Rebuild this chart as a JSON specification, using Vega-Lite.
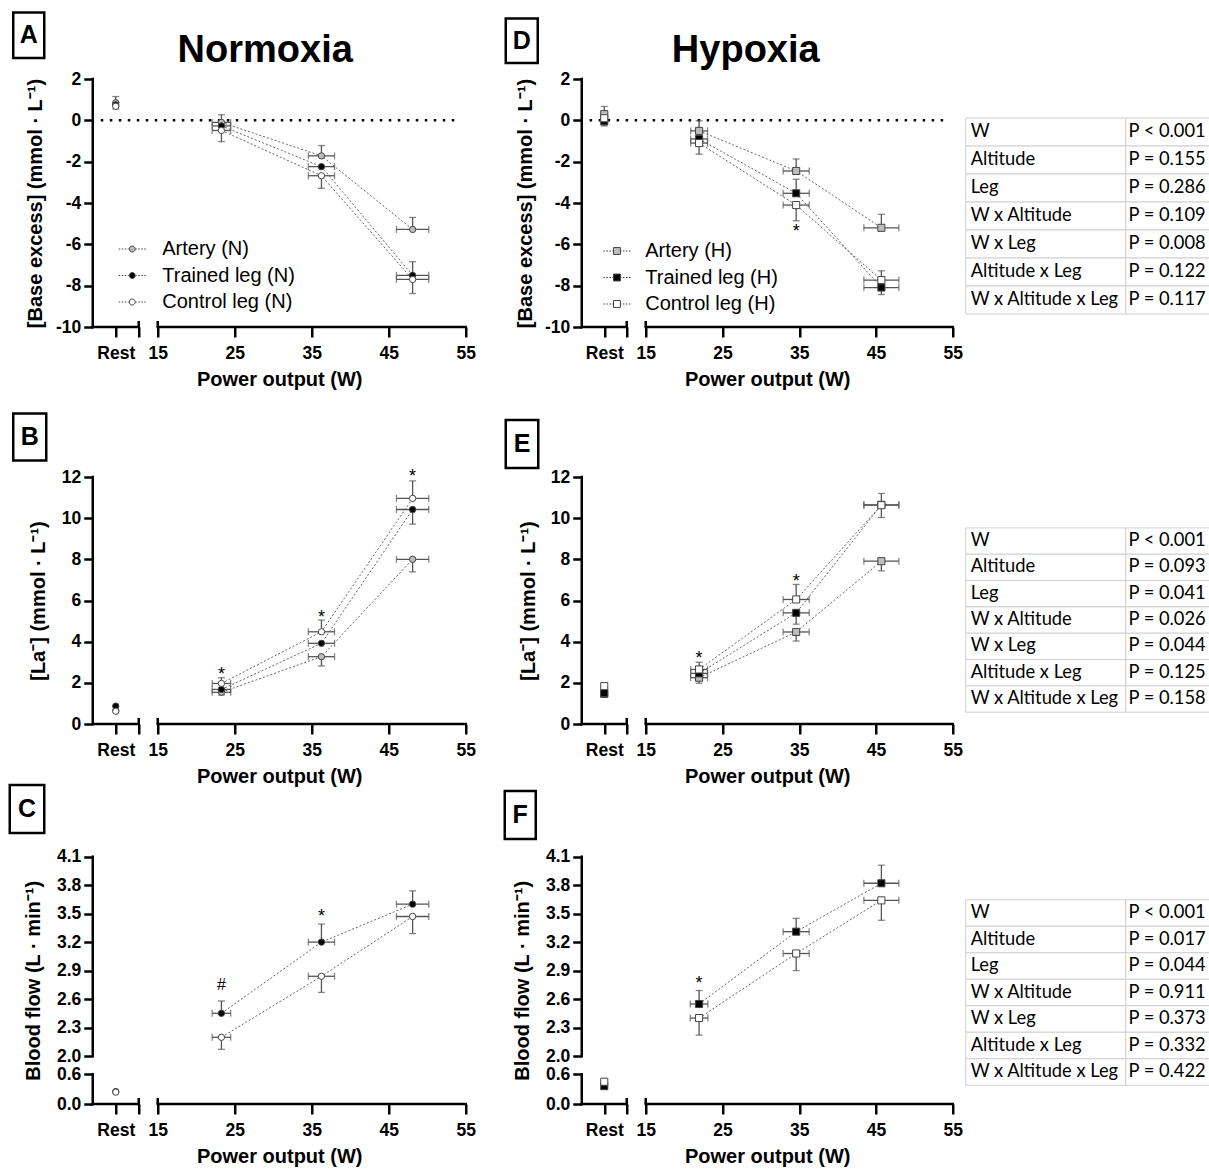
{
"$schema": "https://vega.github.io/schema/vega-lite/v6.json",
"autosize": {"type": "pad"},
"padding": {"left": 7.75, "top": 0, "right": 0, "bottom": 0},
"background": "white",
"columns": 3,
"spacing": 0,
"bounds": "flush",
"resolve": {"scale": {"x": "independent", "y": "independent", "fill": "independent"}, "legend": {"fill": "independent"}},
"datasets": {
"pts": [
{"p":"A","s":"Artery (N)","x":1,"y":0.85,"xlo":1,"xhi":1,"ylo":0.85,"yhi":1.15},
{"p":"A","s":"Artery (N)","x":23.27,"y":-0.1,"xlo":22.07,"xhi":24.47,"ylo":-0.1,"yhi":0.27},
{"p":"A","s":"Artery (N)","x":36.26,"y":-1.72,"xlo":34.56,"xhi":37.96,"ylo":-1.72,"yhi":-1.22},
{"p":"A","s":"Artery (N)","x":48.1,"y":-5.28,"xlo":46.0,"xhi":50.2,"ylo":-5.28,"yhi":-4.7},
{"p":"A","s":"Trained leg (N)","x":1,"y":0.75,"xlo":1,"xhi":1,"ylo":0.75,"yhi":0.75},
{"p":"A","s":"Trained leg (N)","x":23.27,"y":-0.27,"xlo":22.07,"xhi":24.47,"ylo":-0.27,"yhi":-0.27},
{"p":"A","s":"Trained leg (N)","x":36.26,"y":-2.24,"xlo":34.56,"xhi":37.96,"ylo":-2.24,"yhi":-2.24},
{"p":"A","s":"Trained leg (N)","x":48.1,"y":-7.5,"xlo":46.0,"xhi":50.2,"ylo":-7.5,"yhi":-6.84},
{"p":"A","s":"Control leg (N)","x":1,"y":0.68,"xlo":1,"xhi":1,"ylo":0.55,"yhi":0.68},
{"p":"A","s":"Control leg (N)","x":23.27,"y":-0.49,"xlo":22.07,"xhi":24.47,"ylo":-1.03,"yhi":-0.49},
{"p":"A","s":"Control leg (N)","x":36.26,"y":-2.68,"xlo":34.56,"xhi":37.96,"ylo":-3.29,"yhi":-2.68},
{"p":"A","s":"Control leg (N)","x":48.1,"y":-7.7,"xlo":46.0,"xhi":50.2,"ylo":-8.38,"yhi":-7.7},
{"p":"D","s":"Artery (H)","x":1,"y":0.3,"xlo":1,"xhi":1,"ylo":0.3,"yhi":0.67},
{"p":"D","s":"Artery (H)","x":21.95,"y":-0.51,"xlo":20.85,"xhi":23.05,"ylo":-0.51,"yhi":-0.02},
{"p":"D","s":"Artery (H)","x":34.6,"y":-2.45,"xlo":32.9,"xhi":36.3,"ylo":-2.45,"yhi":-1.87},
{"p":"D","s":"Artery (H)","x":45.7,"y":-5.2,"xlo":43.42,"xhi":47.98,"ylo":-5.2,"yhi":-4.55},
{"p":"D","s":"Trained leg (H)","x":1,"y":-0.05,"xlo":1,"xhi":1,"ylo":-0.27,"yhi":-0.05},
{"p":"D","s":"Trained leg (H)","x":21.95,"y":-0.9,"xlo":20.85,"xhi":23.05,"ylo":-0.9,"yhi":-0.9},
{"p":"D","s":"Trained leg (H)","x":34.6,"y":-3.53,"xlo":32.9,"xhi":36.3,"ylo":-3.53,"yhi":-2.85},
{"p":"D","s":"Trained leg (H)","x":45.7,"y":-8.09,"xlo":43.42,"xhi":47.98,"ylo":-8.43,"yhi":-8.09},
{"p":"D","s":"Control leg (H)","x":1,"y":0.1,"xlo":1,"xhi":1,"ylo":0.1,"yhi":0.1},
{"p":"D","s":"Control leg (H)","x":21.95,"y":-1.1,"xlo":20.85,"xhi":23.05,"ylo":-1.64,"yhi":-1.1},
{"p":"D","s":"Control leg (H)","x":34.6,"y":-4.1,"xlo":32.9,"xhi":36.3,"ylo":-4.86,"yhi":-4.1},
{"p":"D","s":"Control leg (H)","x":45.7,"y":-7.73,"xlo":43.42,"xhi":47.98,"ylo":-7.73,"yhi":-7.28},
{"p":"B","s":"Artery (N)","x":1,"y":0.65,"xlo":1,"xhi":1,"ylo":0.65,"yhi":0.65},
{"p":"B","s":"Artery (N)","x":23.27,"y":1.54,"xlo":22.07,"xhi":24.47,"ylo":1.41,"yhi":1.54},
{"p":"B","s":"Artery (N)","x":36.26,"y":3.27,"xlo":34.56,"xhi":37.96,"ylo":2.82,"yhi":3.27},
{"p":"B","s":"Artery (N)","x":48.1,"y":8.0,"xlo":46.0,"xhi":50.2,"ylo":7.39,"yhi":8.0},
{"p":"B","s":"Trained leg (N)","x":1,"y":0.87,"xlo":1,"xhi":1,"ylo":0.87,"yhi":0.87},
{"p":"B","s":"Trained leg (N)","x":23.27,"y":1.68,"xlo":22.07,"xhi":24.47,"ylo":1.68,"yhi":1.68},
{"p":"B","s":"Trained leg (N)","x":36.26,"y":3.92,"xlo":34.56,"xhi":37.96,"ylo":3.92,"yhi":3.92},
{"p":"B","s":"Trained leg (N)","x":48.1,"y":10.42,"xlo":46.0,"xhi":50.2,"ylo":9.71,"yhi":10.42},
{"p":"B","s":"Control leg (N)","x":1,"y":0.62,"xlo":1,"xhi":1,"ylo":0.62,"yhi":0.62},
{"p":"B","s":"Control leg (N)","x":23.27,"y":1.97,"xlo":22.07,"xhi":24.47,"ylo":1.97,"yhi":2.25},
{"p":"B","s":"Control leg (N)","x":36.26,"y":4.48,"xlo":34.56,"xhi":37.96,"ylo":4.48,"yhi":5.05},
{"p":"B","s":"Control leg (N)","x":48.1,"y":10.96,"xlo":46.0,"xhi":50.2,"ylo":10.96,"yhi":11.81},
{"p":"E","s":"Artery (H)","x":1,"y":1.46,"xlo":1,"xhi":1,"ylo":1.46,"yhi":1.46},
{"p":"E","s":"Artery (H)","x":21.95,"y":2.25,"xlo":20.85,"xhi":23.05,"ylo":1.98,"yhi":2.25},
{"p":"E","s":"Artery (H)","x":34.6,"y":4.47,"xlo":32.9,"xhi":36.3,"ylo":4.03,"yhi":4.47},
{"p":"E","s":"Artery (H)","x":45.7,"y":7.91,"xlo":43.42,"xhi":47.98,"ylo":7.44,"yhi":7.91},
{"p":"E","s":"Trained leg (H)","x":1,"y":1.5,"xlo":1,"xhi":1,"ylo":1.5,"yhi":1.5},
{"p":"E","s":"Trained leg (H)","x":21.95,"y":2.46,"xlo":20.85,"xhi":23.05,"ylo":2.46,"yhi":2.46},
{"p":"E","s":"Trained leg (H)","x":34.6,"y":5.4,"xlo":32.9,"xhi":36.3,"ylo":4.85,"yhi":5.4},
{"p":"E","s":"Trained leg (H)","x":45.7,"y":10.65,"xlo":43.42,"xhi":47.98,"ylo":10.03,"yhi":10.65},
{"p":"E","s":"Control leg (H)","x":1,"y":1.84,"xlo":1,"xhi":1,"ylo":1.84,"yhi":1.84},
{"p":"E","s":"Control leg (H)","x":21.95,"y":2.65,"xlo":20.85,"xhi":23.05,"ylo":2.65,"yhi":3.0},
{"p":"E","s":"Control leg (H)","x":34.6,"y":6.05,"xlo":32.9,"xhi":36.3,"ylo":6.05,"yhi":6.78},
{"p":"E","s":"Control leg (H)","x":45.7,"y":10.63,"xlo":43.42,"xhi":47.98,"ylo":10.63,"yhi":11.2},
{"p":"C","s":"Trained leg (N)","x":1,"y":0.25,"xlo":1,"xhi":1,"ylo":0.25,"yhi":0.25},
{"p":"C","s":"Trained leg (N)","x":23.27,"y":2.45,"xlo":22.07,"xhi":24.47,"ylo":2.45,"yhi":2.58},
{"p":"C","s":"Trained leg (N)","x":36.26,"y":3.2,"xlo":34.56,"xhi":37.96,"ylo":3.2,"yhi":3.39},
{"p":"C","s":"Trained leg (N)","x":48.1,"y":3.6,"xlo":46.0,"xhi":50.2,"ylo":3.6,"yhi":3.74},
{"p":"C","s":"Control leg (N)","x":1,"y":0.24,"xlo":1,"xhi":1,"ylo":0.24,"yhi":0.24},
{"p":"C","s":"Control leg (N)","x":23.27,"y":2.197,"xlo":22.07,"xhi":24.47,"ylo":2.07,"yhi":2.197},
{"p":"C","s":"Control leg (N)","x":36.26,"y":2.84,"xlo":34.56,"xhi":37.96,"ylo":2.67,"yhi":2.84},
{"p":"C","s":"Control leg (N)","x":48.1,"y":3.47,"xlo":46.0,"xhi":50.2,"ylo":3.29,"yhi":3.47},
{"p":"F","s":"Trained leg (H)","x":1,"y":0.36,"xlo":1,"xhi":1,"ylo":0.36,"yhi":0.36},
{"p":"F","s":"Trained leg (H)","x":21.95,"y":2.548,"xlo":20.8,"xhi":23.1,"ylo":2.548,"yhi":2.69},
{"p":"F","s":"Trained leg (H)","x":34.6,"y":3.31,"xlo":32.9,"xhi":36.3,"ylo":3.31,"yhi":3.45},
{"p":"F","s":"Trained leg (H)","x":45.7,"y":3.82,"xlo":43.42,"xhi":47.98,"ylo":3.82,"yhi":4.01},
{"p":"F","s":"Control leg (H)","x":1,"y":0.45,"xlo":1,"xhi":1,"ylo":0.45,"yhi":0.45},
{"p":"F","s":"Control leg (H)","x":21.95,"y":2.4,"xlo":20.8,"xhi":23.1,"ylo":2.22,"yhi":2.4},
{"p":"F","s":"Control leg (H)","x":34.6,"y":3.08,"xlo":32.9,"xhi":36.3,"ylo":2.9,"yhi":3.08},
{"p":"F","s":"Control leg (H)","x":45.7,"y":3.64,"xlo":43.42,"xhi":47.98,"ylo":3.43,"yhi":3.64}
],
"ann": [
{"p":"D","x":34.6,"y":-5.15,"t":"*"},
{"p":"B","x":23.27,"y":2.62,"t":"*"},
{"p":"B","x":36.26,"y":5.4,"t":"*"},
{"p":"B","x":48.1,"y":12.24,"t":"*"},
{"p":"C","x":23.27,"y":2.76,"t":"#"},
{"p":"C","x":36.26,"y":3.52,"t":"*"},
{"p":"E","x":21.95,"y":3.4,"t":"*"},
{"p":"E","x":34.6,"y":7.15,"t":"*"},
{"p":"F","x":21.95,"y":2.81,"t":"*"}
],
"tab": [
{"k":1,"t":"W","v":"P < 0.001"},
{"k":1,"t":"Altitude","v":"P = 0.155"},
{"k":1,"t":"Leg","v":"P = 0.286"},
{"k":1,"t":"W x Altitude","v":"P = 0.109"},
{"k":1,"t":"W x Leg","v":"P = 0.008"},
{"k":1,"t":"Altitude x Leg","v":"P = 0.122"},
{"k":1,"t":"W x Altitude x Leg","v":"P = 0.117"},
{"k":2,"t":"W","v":"P < 0.001"},
{"k":2,"t":"Altitude","v":"P = 0.093"},
{"k":2,"t":"Leg","v":"P = 0.041"},
{"k":2,"t":"W x Altitude","v":"P = 0.026"},
{"k":2,"t":"W x Leg","v":"P = 0.044"},
{"k":2,"t":"Altitude x Leg","v":"P = 0.125"},
{"k":2,"t":"W x Altitude x Leg","v":"P = 0.158"},
{"k":3,"t":"W","v":"P < 0.001"},
{"k":3,"t":"Altitude","v":"P = 0.017"},
{"k":3,"t":"Leg","v":"P = 0.044"},
{"k":3,"t":"W x Altitude","v":"P = 0.911"},
{"k":3,"t":"W x Leg","v":"P = 0.373"},
{"k":3,"t":"Altitude x Leg","v":"P = 0.332"},
{"k":3,"t":"W x Altitude x Leg","v":"P = 0.422"}
]
},
"concat": [
{
"width": 489, "height": 327,
"layer": [
{"data": {"name": "pts"}, "transform": [{"filter": "datum.p == 'A' && datum.x > 5"}], "mark": {"type": "line", "color": "#666", "strokeWidth": 1, "strokeDash": [2, 2]}, "encoding": {
"x": {"field": "x", "type": "quantitative", "scale": {"domain": [0, 2, 15, 55], "range": [0, 46, 65, 373], "zero": false, "nice": false}, "axis": {"title": "Power output (W)", "values": [1, 2, 15, 25, 35, 45, 55], "labelExpr": "datum.value == 1 ? 'Rest' : (datum.value == 2 ? '' : datum.label)"}},
"y": {"field": "y", "type": "quantitative", "scale": {"domain": [-10, 2], "range": [327, 79], "zero": false, "nice": false}, "axis": {"title": "[Base excess] (mmol · L⁻¹)", "values": [-10, -8, -6, -4, -2, 0, 2], "labelExpr": "'' + datum.value", "titlePadding": 10}},
"detail": {"field": "s"}}},
{"data": {"values": [{}]}, "mark": {"type": "rule", "color": "black", "strokeWidth": 2.5, "strokeCap": "square"}, "encoding": {"x": {"datum": 0, "type": "quantitative"}, "y": {"datum": -10, "type": "quantitative"}, "y2": {"datum": 2}}},
{"data": {"values": [{}]}, "mark": {"type": "rule", "color": "black", "strokeWidth": 2.5, "strokeCap": "square"}, "encoding": {"x": {"datum": 0, "type": "quantitative"}, "x2": {"datum": 2}, "y": {"datum": -10, "type": "quantitative"}}},
{"data": {"values": [{}]}, "mark": {"type": "rule", "color": "black", "strokeWidth": 2.5, "strokeCap": "square"}, "encoding": {"x": {"datum": 15, "type": "quantitative"}, "x2": {"datum": 55}, "y": {"datum": -10, "type": "quantitative"}}},
{"data": {"values": [{}]}, "mark": {"type": "rule", "color": "black", "strokeWidth": 2.5}, "encoding": {"x": {"datum": 2, "type": "quantitative"}, "y": {"datum": -10, "type": "quantitative"}, "y2": {"datum": -9.71}}},
{"data": {"values": [{}]}, "mark": {"type": "rule", "color": "black", "strokeWidth": 2.5}, "encoding": {"x": {"datum": 15, "type": "quantitative"}, "y": {"datum": -10, "type": "quantitative"}, "y2": {"datum": -9.71}}},
{"data": {"values": [{}]}, "mark": {"type": "rule", "color": "black", "strokeWidth": 2.5, "strokeDash": [2.5, 6.5]}, "encoding": {"x": {"datum": 0.35, "type": "quantitative"}, "x2": {"datum": 54}, "y": {"datum": 0, "type": "quantitative"}}},
{"data": {"name": "pts"}, "transform": [{"filter": "datum.p == 'A' && datum.yhi > datum.ylo"}], "mark": {"type": "errorbar", "ticks": true, "size": 7, "thickness": 1.3, "color": "#555"}, "encoding": {"x": {"field": "x", "type": "quantitative", "title": "Power output (W)"}, "y": {"field": "ylo", "type": "quantitative", "title": "[Base excess] (mmol · L⁻¹)"}, "y2": {"field": "yhi"}}},
{"data": {"name": "pts"}, "transform": [{"filter": "datum.p == 'A' && datum.xhi > datum.xlo"}], "mark": {"type": "errorbar", "ticks": true, "size": 7, "thickness": 1.3, "color": "#555"}, "encoding": {"x": {"field": "xlo", "type": "quantitative", "title": "Power output (W)"}, "x2": {"field": "xhi"}, "y": {"field": "y", "type": "quantitative", "title": "[Base excess] (mmol · L⁻¹)"}}},
{"data": {"name": "pts"}, "transform": [{"filter": "datum.p == 'A'"}], "mark": {"type": "point", "shape": "circle", "filled": true, "size": 40, "stroke": "#444", "strokeWidth": 1, "opacity": 1}, "encoding": {"x": {"field": "x", "type": "quantitative"}, "y": {"field": "y", "type": "quantitative"}, "fill": {"field": "s", "type": "nominal", "scale": {"domain": ["Artery (N)", "Trained leg (N)", "Control leg (N)"], "range": ["#bdbdbd", "#000000", "#ffffff"]}, "legend": {"orient": "none", "legendX": 29.5, "legendY": 239, "title": null, "symbolType": "M-4.5,0H-4M-3.5,0H-3M-2.5,0H-2M-1.5,0H-1.2M1.2,0H1.5M2,0H2.5M3,0H3.5M4,0H4.5M1,0A1,1,0,1,1,-1,0A1,1,0,1,1,1,0Z", "symbolSize": 36, "symbolStrokeColor": "#444", "symbolStrokeWidth": 1, "symbolOpacity": 1, "labelFontSize": 20, "labelFont": "Liberation Sans", "labelColor": "black", "labelOffset": 20, "rowPadding": 6.5, "padding": 0, "labelLimit": 300}}}},
{"data": {"values": [{}]}, "mark": {"type": "rect", "fill": "white", "stroke": "black", "strokeWidth": 2.5}, "encoding": {"x": {"datum": -3.457, "type": "quantitative"}, "x2": {"datum": -2.109}, "y": {"datum": 5.218, "type": "quantitative"}, "y2": {"datum": 3.016}}},
{"data": {"values": [{}]}, "mark": {"type": "text", "fontSize": 25, "fontWeight": "bold", "align": "center", "baseline": "middle", "color": "black"}, "encoding": {"x": {"datum": -2.783, "type": "quantitative"}, "y": {"datum": 4.117, "type": "quantitative"}, "text": {"value": "A"}}},
{"data": {"values": [{}]}, "mark": {"type": "text", "fontSize": 38, "fontWeight": "bold", "align": "center", "baseline": "alphabetic", "color": "black"}, "encoding": {"x": {"datum": 28.96, "type": "quantitative"}, "y": {"datum": 2.823, "type": "quantitative"}, "text": {"value": "Normoxia"}}}
]
},
{
"width": 384, "height": 327,
"layer": [
{"data": {"name": "pts"}, "transform": [{"filter": "datum.p == 'D' && datum.x > 5"}], "mark": {"type": "line", "color": "#666", "strokeWidth": 1, "strokeDash": [2, 2]}, "encoding": {
"x": {"field": "x", "type": "quantitative", "scale": {"domain": [0, 2, 15, 55], "range": [0, 45, 64, 371], "zero": false, "nice": false}, "axis": {"title": "Power output (W)", "values": [1, 2, 15, 25, 35, 45, 55], "labelExpr": "datum.value == 1 ? 'Rest' : (datum.value == 2 ? '' : datum.label)"}},
"y": {"field": "y", "type": "quantitative", "scale": {"domain": [-10, 2], "range": [327, 79], "zero": false, "nice": false}, "axis": {"title": "[Base excess] (mmol · L⁻¹)", "values": [-10, -8, -6, -4, -2, 0, 2], "labelExpr": "'' + datum.value", "titlePadding": 9}},
"detail": {"field": "s"}}},
{"data": {"values": [{}]}, "mark": {"type": "rule", "color": "black", "strokeWidth": 2.5, "strokeCap": "square"}, "encoding": {"x": {"datum": 0, "type": "quantitative"}, "y": {"datum": -10, "type": "quantitative"}, "y2": {"datum": 2}}},
{"data": {"values": [{}]}, "mark": {"type": "rule", "color": "black", "strokeWidth": 2.5, "strokeCap": "square"}, "encoding": {"x": {"datum": 0, "type": "quantitative"}, "x2": {"datum": 2}, "y": {"datum": -10, "type": "quantitative"}}},
{"data": {"values": [{}]}, "mark": {"type": "rule", "color": "black", "strokeWidth": 2.5, "strokeCap": "square"}, "encoding": {"x": {"datum": 15, "type": "quantitative"}, "x2": {"datum": 55}, "y": {"datum": -10, "type": "quantitative"}}},
{"data": {"values": [{}]}, "mark": {"type": "rule", "color": "black", "strokeWidth": 2.5}, "encoding": {"x": {"datum": 2, "type": "quantitative"}, "y": {"datum": -10, "type": "quantitative"}, "y2": {"datum": -9.71}}},
{"data": {"values": [{}]}, "mark": {"type": "rule", "color": "black", "strokeWidth": 2.5}, "encoding": {"x": {"datum": 15, "type": "quantitative"}, "y": {"datum": -10, "type": "quantitative"}, "y2": {"datum": -9.71}}},
{"data": {"values": [{}]}, "mark": {"type": "rule", "color": "black", "strokeWidth": 2.5, "strokeDash": [2.5, 6.5]}, "encoding": {"x": {"datum": 0.35, "type": "quantitative"}, "x2": {"datum": 54}, "y": {"datum": 0, "type": "quantitative"}}},
{"data": {"name": "pts"}, "transform": [{"filter": "datum.p == 'D' && datum.yhi > datum.ylo"}], "mark": {"type": "errorbar", "ticks": true, "size": 7, "thickness": 1.3, "color": "#555"}, "encoding": {"x": {"field": "x", "type": "quantitative", "title": "Power output (W)"}, "y": {"field": "ylo", "type": "quantitative", "title": "[Base excess] (mmol · L⁻¹)"}, "y2": {"field": "yhi"}}},
{"data": {"name": "pts"}, "transform": [{"filter": "datum.p == 'D' && datum.xhi > datum.xlo"}], "mark": {"type": "errorbar", "ticks": true, "size": 7, "thickness": 1.3, "color": "#555"}, "encoding": {"x": {"field": "xlo", "type": "quantitative", "title": "Power output (W)"}, "x2": {"field": "xhi"}, "y": {"field": "y", "type": "quantitative", "title": "[Base excess] (mmol · L⁻¹)"}}},
{"data": {"name": "pts"}, "transform": [{"filter": "datum.p == 'D'"}], "mark": {"type": "point", "shape": "square", "filled": true, "size": 50, "stroke": "#444", "strokeWidth": 1, "opacity": 1}, "encoding": {"x": {"field": "x", "type": "quantitative"}, "y": {"field": "y", "type": "quantitative"}, "fill": {"field": "s", "type": "nominal", "scale": {"domain": ["Artery (H)", "Trained leg (H)", "Control leg (H)"], "range": ["#bdbdbd", "#000000", "#ffffff"]}, "legend": {"orient": "none", "legendX": 25.2, "legendY": 241, "title": null, "symbolType": "M-4.5,0H-4M-3.5,0H-3M-2.5,0H-2M-1.5,0H-1.2M1.2,0H1.5M2,0H2.5M3,0H3.5M4,0H4.5M-1.15,-1.15H1.15V1.15H-1.15Z", "symbolSize": 36, "symbolStrokeColor": "#444", "symbolStrokeWidth": 1, "symbolOpacity": 1, "labelFontSize": 20, "labelFont": "Liberation Sans", "labelColor": "black", "labelOffset": 18.3, "rowPadding": 6.5, "padding": 0, "labelLimit": 300}}}},
{"data": {"name": "ann"}, "transform": [{"filter": "datum.p == 'D' && datum.t == '*'"}], "mark": {"type": "text", "fontSize": 18, "color": "black", "baseline": "alphabetic", "dy": 10}, "encoding": {"x": {"field": "x", "type": "quantitative"}, "y": {"field": "y", "type": "quantitative"}, "text": {"field": "t"}}},
{"data": {"values": [{}]}, "mark": {"type": "rect", "fill": "white", "stroke": "black", "strokeWidth": 2.5}, "encoding": {"x": {"datum": -3.378, "type": "quantitative"}, "x2": {"datum": -1.956}, "y": {"datum": 4.927, "type": "quantitative"}, "y2": {"datum": 2.774}}},
{"data": {"values": [{}]}, "mark": {"type": "text", "fontSize": 25, "fontWeight": "bold", "align": "center", "baseline": "middle", "color": "black"}, "encoding": {"x": {"datum": -2.667, "type": "quantitative"}, "y": {"datum": 3.851, "type": "quantitative"}, "text": {"value": "D"}}},
{"data": {"values": [{}]}, "mark": {"type": "text", "fontSize": 38, "fontWeight": "bold", "align": "center", "baseline": "alphabetic", "color": "black"}, "encoding": {"x": {"datum": 28.03, "type": "quantitative"}, "y": {"datum": 2.823, "type": "quantitative"}, "text": {"value": "Hypoxia"}}}
]
},
{
"width": 244, "height": 327,
"data": {"name": "tab"},
"transform": [{"filter": "datum.k == 1"}],
"encoding": {
"y": {"field": "t", "type": "nominal", "sort": null, "scale": {"type": "band", "range": [118, 314], "paddingInner": 0, "paddingOuter": 0}, "axis": null}
},
"layer": [
{"mark": {"type": "rect", "fill": "white", "stroke": "#cfcfcf", "strokeWidth": 1}, "encoding": {"x": {"datum": 0, "type": "quantitative", "scale": {"domain": [0, 1], "nice": false, "zero": false}, "axis": null}, "x2": {"datum": 0.656}}},
{"mark": {"type": "rect", "fill": "white", "stroke": "#cfcfcf", "strokeWidth": 1}, "encoding": {"x": {"datum": 0.656, "type": "quantitative"}, "x2": {"datum": 1.01}}},
{"mark": {"type": "text", "align": "left", "baseline": "middle", "font": "Lato", "fontSize": 18.3, "color": "black"}, "encoding": {"x": {"datum": 0.02, "type": "quantitative"}, "text": {"field": "t"}}},
{"mark": {"type": "text", "align": "left", "baseline": "middle", "font": "Lato", "fontSize": 18.3, "color": "black"}, "encoding": {"x": {"datum": 0.667, "type": "quantitative"}, "text": {"field": "v"}}}
]
},
{
"width": 489, "height": 397,
"layer": [
{"data": {"name": "pts"}, "transform": [{"filter": "datum.p == 'B' && datum.x > 5"}], "mark": {"type": "line", "color": "#666", "strokeWidth": 1, "strokeDash": [2, 2]}, "encoding": {
"x": {"field": "x", "type": "quantitative", "scale": {"domain": [0, 2, 15, 55], "range": [0, 46, 65, 373], "zero": false, "nice": false}, "axis": {"title": "Power output (W)", "values": [1, 2, 15, 25, 35, 45, 55], "labelExpr": "datum.value == 1 ? 'Rest' : (datum.value == 2 ? '' : datum.label)"}},
"y": {"field": "y", "type": "quantitative", "scale": {"domain": [0, 12], "range": [397, 150], "zero": false, "nice": false}, "axis": {"title": "[La⁻] (mmol · L⁻¹)", "values": [0, 2, 4, 6, 8, 10, 12], "titlePadding": 12.5}},
"detail": {"field": "s"}}},
{"data": {"values": [{}]}, "mark": {"type": "rule", "color": "black", "strokeWidth": 2.5, "strokeCap": "square"}, "encoding": {"x": {"datum": 0, "type": "quantitative"}, "y": {"datum": 0, "type": "quantitative"}, "y2": {"datum": 12}}},
{"data": {"values": [{}]}, "mark": {"type": "rule", "color": "black", "strokeWidth": 2.5, "strokeCap": "square"}, "encoding": {"x": {"datum": 0, "type": "quantitative"}, "x2": {"datum": 2}, "y": {"datum": 0, "type": "quantitative"}}},
{"data": {"values": [{}]}, "mark": {"type": "rule", "color": "black", "strokeWidth": 2.5, "strokeCap": "square"}, "encoding": {"x": {"datum": 15, "type": "quantitative"}, "x2": {"datum": 55}, "y": {"datum": 0, "type": "quantitative"}}},
{"data": {"values": [{}]}, "mark": {"type": "rule", "color": "black", "strokeWidth": 2.5}, "encoding": {"x": {"datum": 2, "type": "quantitative"}, "y": {"datum": 0, "type": "quantitative"}, "y2": {"datum": 0.29}}},
{"data": {"values": [{}]}, "mark": {"type": "rule", "color": "black", "strokeWidth": 2.5}, "encoding": {"x": {"datum": 15, "type": "quantitative"}, "y": {"datum": 0, "type": "quantitative"}, "y2": {"datum": 0.29}}},
{"data": {"name": "pts"}, "transform": [{"filter": "datum.p == 'B' && datum.yhi > datum.ylo"}], "mark": {"type": "errorbar", "ticks": true, "size": 7, "thickness": 1.3, "color": "#555"}, "encoding": {"x": {"field": "x", "type": "quantitative", "title": "Power output (W)"}, "y": {"field": "ylo", "type": "quantitative", "title": "[La⁻] (mmol · L⁻¹)"}, "y2": {"field": "yhi"}}},
{"data": {"name": "pts"}, "transform": [{"filter": "datum.p == 'B' && datum.xhi > datum.xlo"}], "mark": {"type": "errorbar", "ticks": true, "size": 7, "thickness": 1.3, "color": "#555"}, "encoding": {"x": {"field": "xlo", "type": "quantitative", "title": "Power output (W)"}, "x2": {"field": "xhi"}, "y": {"field": "y", "type": "quantitative", "title": "[La⁻] (mmol · L⁻¹)"}}},
{"data": {"name": "pts"}, "transform": [{"filter": "datum.p == 'B'"}], "mark": {"type": "point", "shape": "circle", "filled": true, "size": 40, "stroke": "#444", "strokeWidth": 1, "opacity": 1}, "encoding": {"x": {"field": "x", "type": "quantitative"}, "y": {"field": "y", "type": "quantitative"}, "fill": {"field": "s", "type": "nominal", "scale": {"domain": ["Artery (N)", "Trained leg (N)", "Control leg (N)"], "range": ["#bdbdbd", "#000000", "#ffffff"]}, "legend": null}}},
{"data": {"name": "ann"}, "transform": [{"filter": "datum.p == 'B' && datum.t == '*'"}], "mark": {"type": "text", "fontSize": 18, "color": "black", "baseline": "alphabetic", "dy": 10}, "encoding": {"x": {"field": "x", "type": "quantitative"}, "y": {"field": "y", "type": "quantitative"}, "text": {"field": "t"}}},
{"data": {"values": [{}]}, "mark": {"type": "rect", "fill": "white", "stroke": "black", "strokeWidth": 2.5}, "encoding": {"x": {"datum": -3.457, "type": "quantitative"}, "x2": {"datum": -2.022}, "y": {"datum": 15.085, "type": "quantitative"}, "y2": {"datum": 12.802}}},
{"data": {"values": [{}]}, "mark": {"type": "text", "fontSize": 25, "fontWeight": "bold", "align": "center", "baseline": "middle", "color": "black"}, "encoding": {"x": {"datum": -2.739, "type": "quantitative"}, "y": {"datum": 13.944, "type": "quantitative"}, "text": {"value": "B"}}}
]
},
{
"width": 384, "height": 397,
"layer": [
{"data": {"name": "pts"}, "transform": [{"filter": "datum.p == 'E' && datum.x > 5"}], "mark": {"type": "line", "color": "#666", "strokeWidth": 1, "strokeDash": [2, 2]}, "encoding": {
"x": {"field": "x", "type": "quantitative", "scale": {"domain": [0, 2, 15, 55], "range": [0, 45, 64, 371], "zero": false, "nice": false}, "axis": {"title": "Power output (W)", "values": [1, 2, 15, 25, 35, 45, 55], "labelExpr": "datum.value == 1 ? 'Rest' : (datum.value == 2 ? '' : datum.label)"}},
"y": {"field": "y", "type": "quantitative", "scale": {"domain": [0, 12], "range": [397, 150], "zero": false, "nice": false}, "axis": {"title": "[La⁻] (mmol · L⁻¹)", "values": [0, 2, 4, 6, 8, 10, 12], "titlePadding": 12}},
"detail": {"field": "s"}}},
{"data": {"values": [{}]}, "mark": {"type": "rule", "color": "black", "strokeWidth": 2.5, "strokeCap": "square"}, "encoding": {"x": {"datum": 0, "type": "quantitative"}, "y": {"datum": 0, "type": "quantitative"}, "y2": {"datum": 12}}},
{"data": {"values": [{}]}, "mark": {"type": "rule", "color": "black", "strokeWidth": 2.5, "strokeCap": "square"}, "encoding": {"x": {"datum": 0, "type": "quantitative"}, "x2": {"datum": 2}, "y": {"datum": 0, "type": "quantitative"}}},
{"data": {"values": [{}]}, "mark": {"type": "rule", "color": "black", "strokeWidth": 2.5, "strokeCap": "square"}, "encoding": {"x": {"datum": 15, "type": "quantitative"}, "x2": {"datum": 55}, "y": {"datum": 0, "type": "quantitative"}}},
{"data": {"values": [{}]}, "mark": {"type": "rule", "color": "black", "strokeWidth": 2.5}, "encoding": {"x": {"datum": 2, "type": "quantitative"}, "y": {"datum": 0, "type": "quantitative"}, "y2": {"datum": 0.29}}},
{"data": {"values": [{}]}, "mark": {"type": "rule", "color": "black", "strokeWidth": 2.5}, "encoding": {"x": {"datum": 15, "type": "quantitative"}, "y": {"datum": 0, "type": "quantitative"}, "y2": {"datum": 0.29}}},
{"data": {"name": "pts"}, "transform": [{"filter": "datum.p == 'E' && datum.yhi > datum.ylo"}], "mark": {"type": "errorbar", "ticks": true, "size": 7, "thickness": 1.3, "color": "#555"}, "encoding": {"x": {"field": "x", "type": "quantitative", "title": "Power output (W)"}, "y": {"field": "ylo", "type": "quantitative", "title": "[La⁻] (mmol · L⁻¹)"}, "y2": {"field": "yhi"}}},
{"data": {"name": "pts"}, "transform": [{"filter": "datum.p == 'E' && datum.xhi > datum.xlo"}], "mark": {"type": "errorbar", "ticks": true, "size": 7, "thickness": 1.3, "color": "#555"}, "encoding": {"x": {"field": "xlo", "type": "quantitative", "title": "Power output (W)"}, "x2": {"field": "xhi"}, "y": {"field": "y", "type": "quantitative", "title": "[La⁻] (mmol · L⁻¹)"}}},
{"data": {"name": "pts"}, "transform": [{"filter": "datum.p == 'E'"}], "mark": {"type": "point", "shape": "square", "filled": true, "size": 50, "stroke": "#444", "strokeWidth": 1, "opacity": 1}, "encoding": {"x": {"field": "x", "type": "quantitative"}, "y": {"field": "y", "type": "quantitative"}, "fill": {"field": "s", "type": "nominal", "scale": {"domain": ["Artery (H)", "Trained leg (H)", "Control leg (H)"], "range": ["#bdbdbd", "#000000", "#ffffff"]}, "legend": null}}},
{"data": {"name": "ann"}, "transform": [{"filter": "datum.p == 'E' && datum.t == '*'"}], "mark": {"type": "text", "fontSize": 18, "color": "black", "baseline": "alphabetic", "dy": 10}, "encoding": {"x": {"field": "x", "type": "quantitative"}, "y": {"field": "y", "type": "quantitative"}, "text": {"field": "t"}}},
{"data": {"values": [{}]}, "mark": {"type": "rect", "fill": "white", "stroke": "black", "strokeWidth": 2.5}, "encoding": {"x": {"datum": -3.378, "type": "quantitative"}, "x2": {"datum": -1.933}, "y": {"datum": 14.77, "type": "quantitative"}, "y2": {"datum": 12.438}}},
{"data": {"values": [{}]}, "mark": {"type": "text", "fontSize": 25, "fontWeight": "bold", "align": "center", "baseline": "middle", "color": "black"}, "encoding": {"x": {"datum": -2.656, "type": "quantitative"}, "y": {"datum": 13.603, "type": "quantitative"}, "text": {"value": "E"}}}
]
},
{
"width": 244, "height": 397,
"data": {"name": "tab"},
"transform": [{"filter": "datum.k == 2"}],
"encoding": {
"y": {"field": "t", "type": "nominal", "sort": null, "scale": {"type": "band", "range": [200.9, 385.2], "paddingInner": 0, "paddingOuter": 0}, "axis": null}
},
"layer": [
{"mark": {"type": "rect", "fill": "white", "stroke": "#cfcfcf", "strokeWidth": 1}, "encoding": {"x": {"datum": 0, "type": "quantitative", "scale": {"domain": [0, 1], "nice": false, "zero": false}, "axis": null}, "x2": {"datum": 0.656}}},
{"mark": {"type": "rect", "fill": "white", "stroke": "#cfcfcf", "strokeWidth": 1}, "encoding": {"x": {"datum": 0.656, "type": "quantitative"}, "x2": {"datum": 1.01}}},
{"mark": {"type": "text", "align": "left", "baseline": "middle", "font": "Lato", "fontSize": 18.3, "color": "black"}, "encoding": {"x": {"datum": 0.02, "type": "quantitative"}, "text": {"field": "t"}}},
{"mark": {"type": "text", "align": "left", "baseline": "middle", "font": "Lato", "fontSize": 18.3, "color": "black"}, "encoding": {"x": {"datum": 0.667, "type": "quantitative"}, "text": {"field": "v"}}}
]
},
{
"width": 489, "height": 380,
"layer": [
{"data": {"name": "pts"}, "transform": [{"filter": "datum.p == 'C' && datum.x > 5"}], "mark": {"type": "line", "color": "#666", "strokeWidth": 1, "strokeDash": [2, 2]}, "encoding": {
"x": {"field": "x", "type": "quantitative", "scale": {"domain": [0, 2, 15, 55], "range": [0, 46, 65, 373], "zero": false, "nice": false}, "axis": {"title": "Power output (W)", "values": [1, 2, 15, 25, 35, 45, 55], "labelExpr": "datum.value == 1 ? 'Rest' : (datum.value == 2 ? '' : datum.label)"}},
"y": {"field": "y", "type": "quantitative", "scale": {"domain": [0, 0.6, 2, 4.1], "range": [380, 350.3, 332, 132.7], "zero": false, "nice": false}, "axis": {"title": "Blood flow (L · min⁻¹)", "values": [0, 0.6, 2, 2.3, 2.6, 2.9, 3.2, 3.5, 3.8, 4.1], "format": ".1f", "titlePadding": 12.7}},
"detail": {"field": "s"}}},
{"data": {"values": [{}]}, "mark": {"type": "rule", "color": "black", "strokeWidth": 2.5, "strokeCap": "square"}, "encoding": {"x": {"datum": 0, "type": "quantitative"}, "y": {"datum": 0, "type": "quantitative"}, "y2": {"datum": 0.6}}},
{"data": {"values": [{}]}, "mark": {"type": "rule", "color": "black", "strokeWidth": 2.5, "strokeCap": "square"}, "encoding": {"x": {"datum": 0, "type": "quantitative"}, "y": {"datum": 2, "type": "quantitative"}, "y2": {"datum": 4.1}}},
{"data": {"values": [{}]}, "mark": {"type": "rule", "color": "black", "strokeWidth": 2.5, "strokeCap": "square"}, "encoding": {"x": {"datum": 0, "type": "quantitative"}, "x2": {"datum": 2}, "y": {"datum": 0, "type": "quantitative"}}},
{"data": {"values": [{}]}, "mark": {"type": "rule", "color": "black", "strokeWidth": 2.5, "strokeCap": "square"}, "encoding": {"x": {"datum": 15, "type": "quantitative"}, "x2": {"datum": 55}, "y": {"datum": 0, "type": "quantitative"}}},
{"data": {"values": [{}]}, "mark": {"type": "rule", "color": "black", "strokeWidth": 2.5}, "encoding": {"x": {"datum": 2, "type": "quantitative"}, "y": {"datum": 0, "type": "quantitative"}, "y2": {"datum": 0.121}}},
{"data": {"values": [{}]}, "mark": {"type": "rule", "color": "black", "strokeWidth": 2.5}, "encoding": {"x": {"datum": 15, "type": "quantitative"}, "y": {"datum": 0, "type": "quantitative"}, "y2": {"datum": 0.121}}},
{"data": {"name": "pts"}, "transform": [{"filter": "datum.p == 'C' && datum.yhi > datum.ylo"}], "mark": {"type": "errorbar", "ticks": true, "size": 7, "thickness": 1.3, "color": "#555"}, "encoding": {"x": {"field": "x", "type": "quantitative", "title": "Power output (W)"}, "y": {"field": "ylo", "type": "quantitative", "title": "Blood flow (L · min⁻¹)"}, "y2": {"field": "yhi"}}},
{"data": {"name": "pts"}, "transform": [{"filter": "datum.p == 'C' && datum.xhi > datum.xlo"}], "mark": {"type": "errorbar", "ticks": true, "size": 7, "thickness": 1.3, "color": "#555"}, "encoding": {"x": {"field": "xlo", "type": "quantitative", "title": "Power output (W)"}, "x2": {"field": "xhi"}, "y": {"field": "y", "type": "quantitative", "title": "Blood flow (L · min⁻¹)"}}},
{"data": {"name": "pts"}, "transform": [{"filter": "datum.p == 'C'"}], "mark": {"type": "point", "shape": "circle", "filled": true, "size": 40, "stroke": "#444", "strokeWidth": 1, "opacity": 1}, "encoding": {"x": {"field": "x", "type": "quantitative"}, "y": {"field": "y", "type": "quantitative"}, "fill": {"field": "s", "type": "nominal", "scale": {"domain": ["Trained leg (N)", "Control leg (N)"], "range": ["#000000", "#ffffff"]}, "legend": null}}},
{"data": {"name": "ann"}, "transform": [{"filter": "datum.p == 'C' && datum.t == '*'"}], "mark": {"type": "text", "fontSize": 18, "color": "black", "baseline": "alphabetic", "dy": 10}, "encoding": {"x": {"field": "x", "type": "quantitative"}, "y": {"field": "y", "type": "quantitative"}, "text": {"field": "t"}}},
{"data": {"name": "ann"}, "transform": [{"filter": "datum.p == 'C' && datum.t == '#'"}], "mark": {"type": "text", "fontSize": 16, "color": "black", "baseline": "alphabetic", "dy": 6}, "encoding": {"x": {"field": "x", "type": "quantitative"}, "y": {"field": "y", "type": "quantitative"}, "text": {"field": "t"}}},
{"data": {"values": [{}]}, "mark": {"type": "rect", "fill": "white", "stroke": "black", "strokeWidth": 2.5}, "encoding": {"x": {"datum": -3.609, "type": "quantitative"}, "x2": {"datum": -2.109}, "y": {"datum": 4.855, "type": "quantitative"}, "y2": {"datum": 4.35}}},
{"data": {"values": [{}]}, "mark": {"type": "text", "fontSize": 25, "fontWeight": "bold", "align": "center", "baseline": "middle", "color": "black"}, "encoding": {"x": {"datum": -2.859, "type": "quantitative"}, "y": {"datum": 4.603, "type": "quantitative"}, "text": {"value": "C"}}}
]
},
{
"width": 384, "height": 380,
"layer": [
{"data": {"name": "pts"}, "transform": [{"filter": "datum.p == 'F' && datum.x > 5"}], "mark": {"type": "line", "color": "#666", "strokeWidth": 1, "strokeDash": [2, 2]}, "encoding": {
"x": {"field": "x", "type": "quantitative", "scale": {"domain": [0, 2, 15, 55], "range": [0, 45, 64, 371], "zero": false, "nice": false}, "axis": {"title": "Power output (W)", "values": [1, 2, 15, 25, 35, 45, 55], "labelExpr": "datum.value == 1 ? 'Rest' : (datum.value == 2 ? '' : datum.label)"}},
"y": {"field": "y", "type": "quantitative", "scale": {"domain": [0, 0.6, 2, 4.1], "range": [380, 350.3, 332, 132.7], "zero": false, "nice": false}, "axis": {"title": "Blood flow (L · min⁻¹)", "values": [0, 0.6, 2, 2.3, 2.6, 2.9, 3.2, 3.5, 3.8, 4.1], "format": ".1f", "titlePadding": 12.5}},
"detail": {"field": "s"}}},
{"data": {"values": [{}]}, "mark": {"type": "rule", "color": "black", "strokeWidth": 2.5, "strokeCap": "square"}, "encoding": {"x": {"datum": 0, "type": "quantitative"}, "y": {"datum": 0, "type": "quantitative"}, "y2": {"datum": 0.6}}},
{"data": {"values": [{}]}, "mark": {"type": "rule", "color": "black", "strokeWidth": 2.5, "strokeCap": "square"}, "encoding": {"x": {"datum": 0, "type": "quantitative"}, "y": {"datum": 2, "type": "quantitative"}, "y2": {"datum": 4.1}}},
{"data": {"values": [{}]}, "mark": {"type": "rule", "color": "black", "strokeWidth": 2.5, "strokeCap": "square"}, "encoding": {"x": {"datum": 0, "type": "quantitative"}, "x2": {"datum": 2}, "y": {"datum": 0, "type": "quantitative"}}},
{"data": {"values": [{}]}, "mark": {"type": "rule", "color": "black", "strokeWidth": 2.5, "strokeCap": "square"}, "encoding": {"x": {"datum": 15, "type": "quantitative"}, "x2": {"datum": 55}, "y": {"datum": 0, "type": "quantitative"}}},
{"data": {"values": [{}]}, "mark": {"type": "rule", "color": "black", "strokeWidth": 2.5}, "encoding": {"x": {"datum": 2, "type": "quantitative"}, "y": {"datum": 0, "type": "quantitative"}, "y2": {"datum": 0.121}}},
{"data": {"values": [{}]}, "mark": {"type": "rule", "color": "black", "strokeWidth": 2.5}, "encoding": {"x": {"datum": 15, "type": "quantitative"}, "y": {"datum": 0, "type": "quantitative"}, "y2": {"datum": 0.121}}},
{"data": {"name": "pts"}, "transform": [{"filter": "datum.p == 'F' && datum.yhi > datum.ylo"}], "mark": {"type": "errorbar", "ticks": true, "size": 7, "thickness": 1.3, "color": "#555"}, "encoding": {"x": {"field": "x", "type": "quantitative", "title": "Power output (W)"}, "y": {"field": "ylo", "type": "quantitative", "title": "Blood flow (L · min⁻¹)"}, "y2": {"field": "yhi"}}},
{"data": {"name": "pts"}, "transform": [{"filter": "datum.p == 'F' && datum.xhi > datum.xlo"}], "mark": {"type": "errorbar", "ticks": true, "size": 7, "thickness": 1.3, "color": "#555"}, "encoding": {"x": {"field": "xlo", "type": "quantitative", "title": "Power output (W)"}, "x2": {"field": "xhi"}, "y": {"field": "y", "type": "quantitative", "title": "Blood flow (L · min⁻¹)"}}},
{"data": {"name": "pts"}, "transform": [{"filter": "datum.p == 'F'"}], "mark": {"type": "point", "shape": "square", "filled": true, "size": 50, "stroke": "#444", "strokeWidth": 1, "opacity": 1}, "encoding": {"x": {"field": "x", "type": "quantitative"}, "y": {"field": "y", "type": "quantitative"}, "fill": {"field": "s", "type": "nominal", "scale": {"domain": ["Trained leg (H)", "Control leg (H)"], "range": ["#000000", "#ffffff"]}, "legend": null}}},
{"data": {"name": "ann"}, "transform": [{"filter": "datum.p == 'F' && datum.t == '*'"}], "mark": {"type": "text", "fontSize": 18, "color": "black", "baseline": "alphabetic", "dy": 10}, "encoding": {"x": {"field": "x", "type": "quantitative"}, "y": {"field": "y", "type": "quantitative"}, "text": {"field": "t"}}},
{"data": {"values": [{}]}, "mark": {"type": "rect", "fill": "white", "stroke": "black", "strokeWidth": 2.5}, "encoding": {"x": {"datum": -3.422, "type": "quantitative"}, "x2": {"datum": -2.044}, "y": {"datum": 4.792, "type": "quantitative"}, "y2": {"datum": 4.287}}},
{"data": {"values": [{}]}, "mark": {"type": "text", "fontSize": 25, "fontWeight": "bold", "align": "center", "baseline": "middle", "color": "black"}, "encoding": {"x": {"datum": -2.733, "type": "quantitative"}, "y": {"datum": 4.539, "type": "quantitative"}, "text": {"value": "F"}}}
]
},
{
"width": 244, "height": 380,
"data": {"name": "tab"},
"transform": [{"filter": "datum.k == 3"}],
"encoding": {
"y": {"field": "t", "type": "nominal", "sort": null, "scale": {"type": "band", "range": [175.75, 361.25], "paddingInner": 0, "paddingOuter": 0}, "axis": null}
},
"layer": [
{"mark": {"type": "rect", "fill": "white", "stroke": "#cfcfcf", "strokeWidth": 1}, "encoding": {"x": {"datum": 0, "type": "quantitative", "scale": {"domain": [0, 1], "nice": false, "zero": false}, "axis": null}, "x2": {"datum": 0.656}}},
{"mark": {"type": "rect", "fill": "white", "stroke": "#cfcfcf", "strokeWidth": 1}, "encoding": {"x": {"datum": 0.656, "type": "quantitative"}, "x2": {"datum": 1.01}}},
{"mark": {"type": "text", "align": "left", "baseline": "middle", "font": "Lato", "fontSize": 18.3, "color": "black"}, "encoding": {"x": {"datum": 0.02, "type": "quantitative"}, "text": {"field": "t"}}},
{"mark": {"type": "text", "align": "left", "baseline": "middle", "font": "Lato", "fontSize": 18.3, "color": "black"}, "encoding": {"x": {"datum": 0.667, "type": "quantitative"}, "text": {"field": "v"}}}
]
}
],
"config": {
"view": {"stroke": null},
"font": "Liberation Sans",
"axis": {"domain": false, "grid": false, "tickColor": "black", "tickWidth": 2.5, "labelFont": "Liberation Sans", "labelFontSize": 17.5, "labelFontWeight": "bold", "labelColor": "black", "titleFont": "Liberation Sans", "titleFontSize": 20, "titleFontWeight": "bold", "titleColor": "black", "labelOverlap": false, "labelFlush": false, "labelBound": false},
"axisX": {"tickSize": 10, "labelPadding": 7, "titlePadding": 8},
"axisY": {"tickSize": 9, "labelPadding": 3}
}
}
